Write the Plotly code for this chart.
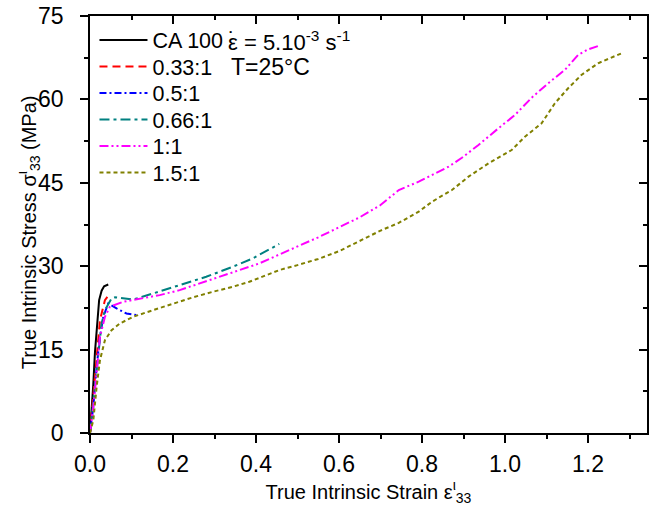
import plotly.graph_objects as go

# ---- data ----
ca100_x = [0.0, 0.004, 0.008, 0.012, 0.018, 0.022, 0.028, 0.034, 0.044]
ca100_y = [0.0, 4.0, 8.8, 14.6, 20.9, 23.9, 25.6, 26.4, 26.7]

r033_x = [0.0, 0.008, 0.016, 0.024, 0.028, 0.036, 0.042]
r033_y = [0.0, 7.2, 14.4, 20.3, 21.5, 23.9, 24.5]

r05_x = [0.0, 0.008, 0.016, 0.024, 0.032, 0.044, 0.064, 0.088, 0.112]
r05_y = [0.0, 4.7, 11.9, 17.3, 20.9, 23.3, 22.4, 21.5, 21.2]

r066_x = [0.0, 0.008, 0.020, 0.028, 0.036, 0.044, 0.052, 0.060, 0.104, 0.152, 0.216, 0.280, 0.344, 0.392, 0.456]
r066_y = [0.0, 5.9, 14.3, 19.7, 22.1, 23.3, 24.2, 24.4, 24.0, 25.1, 26.6, 28.1, 29.9, 31.4, 34.0]

r1_x = [0.0, 0.008, 0.016, 0.024, 0.036, 0.048, 0.080, 0.120, 0.168, 0.216, 0.264, 0.312, 0.360, 0.408, 0.456,
        0.50, 0.55, 0.60, 0.65, 0.70, 0.744, 0.792, 0.816, 0.864, 0.896, 0.936, 0.984, 1.024, 1.064, 1.104,
        1.144, 1.176, 1.200, 1.224]
r1_y = [0.0, 4.7, 10.8, 17.3, 20.9, 22.7, 23.6, 24.2, 24.8, 25.7, 26.9, 28.1, 29.3, 30.5, 32.1,
        33.5, 35.2, 37.0, 38.8, 41.0, 43.7, 45.2, 46.1, 47.9, 49.5, 51.8, 54.8, 57.2, 60.3, 62.9,
        65.3, 68.0, 69.0, 69.6]

r15_x = [0.0, 0.008, 0.016, 0.024, 0.036, 0.052, 0.072, 0.104, 0.152, 0.200, 0.248, 0.296, 0.344, 0.384, 0.424,
         0.456, 0.50, 0.55, 0.60, 0.65, 0.70, 0.744, 0.792, 0.824, 0.872, 0.912, 0.960, 1.016, 1.048, 1.088,
         1.120, 1.152, 1.184, 1.224, 1.284]
r15_y = [0.0, 2.3, 8.3, 13.1, 16.7, 18.5, 19.7, 20.9, 22.1, 23.3, 24.4, 25.4, 26.3, 27.2, 28.4,
         29.3, 30.2, 31.3, 32.7, 34.6, 36.4, 37.8, 39.8, 41.6, 43.7, 46.1, 48.5, 50.9, 53.3, 55.7,
         59.3, 62.0, 64.4, 66.5, 68.4]

names = ["CA 100", "0.33:1", "0.5:1", "0.66:1", "1:1", "1.5:1"]
xs = [ca100_x, r033_x, r05_x, r066_x, r1_x, r15_x]
ys = [ca100_y, r033_y, r05_y, r066_y, r1_y, r15_y]
colors = ["#000000", "#FF0000", "#0000FF", "#008080", "#FF00FF", "#808000"]
dashes = ["solid", "8px,5px", "7px,3px,2px,3px", "10px,4px,3px,4px", "9px,3px,2px,3px,2px,3px", "4px,3px"]

FONT = "Liberation Sans, Arial, sans-serif"
XR = [0, 1.342]
YR = [0, 75]
TICKF = 23

# plot area in pixels: left 90, right 649, top 16, bottom 433
def px_x(p):
    return (p - 90) / 559

def px_y(p):
    return (433 - p) / 417

legend_rows = [40, 66.5, 93, 119.5, 146, 172.5]

fig = go.Figure()
legend_layouts = {}
for i, (n, x, y, c, d) in enumerate(zip(names, xs, ys, colors, dashes)):
    lid = "legend" if i == 0 else f"legend{i + 1}"
    fig.add_trace(go.Scatter(x=x, y=y, mode="lines", name=n, legend=lid,
                             line=dict(color=c, width=2, dash=d)))
    legend_layouts[lid] = dict(x=px_x(94.5), y=px_y(legend_rows[i]), xanchor="left", yanchor="middle",
                               bgcolor="rgba(0,0,0,0)", font=dict(size=21.5, family=FONT),
                               itemwidth=48, borderwidth=0)

# transparent copy of one series on a coincident subplot that carries the inside ticks (top and right)
fig.add_trace(go.Scatter(x=r15_x, y=r15_y, xaxis="x2", yaxis="y2", mode="lines", opacity=0,
                         line=dict(color="#808000", width=1), showlegend=False, hoverinfo="skip"))

common = dict(showgrid=False, zeroline=False, linecolor="black", linewidth=1.5,
              tickwidth=1.5, tickcolor="black")

fig.update_layout(
    width=651, height=508,
    margin=dict(l=90, r=2, t=16, b=75),
    plot_bgcolor="rgba(0,0,0,0)", paper_bgcolor="white",
    font=dict(family=FONT, size=20, color="black"),
    showlegend=True,
    xaxis=dict(range=XR, domain=[0, 1], dtick=0.2, tick0=0, tickformat=".1f", showline=True, mirror=True,
               ticks="outside", ticklen=8, ticklabelstandoff=2,
               minor=dict(dtick=0.1, tick0=0, ticks="outside", ticklen=4, tickwidth=1.5, tickcolor="black"),
               tickfont=dict(size=TICKF),
               title=dict(text="True Intrinsic Strain ε<sup>ι</sup><sub>33</sub>", font=dict(size=20), standoff=0),
               **common),
    yaxis=dict(range=YR, domain=[0, 1], dtick=15, tick0=0, showline=True, mirror=True,
               ticks="outside", ticklen=8, ticklabelstandoff=12,
               minor=dict(dtick=7.5, tick0=0, ticks="outside", ticklen=4, tickwidth=1.5, tickcolor="black"),
               tickfont=dict(size=TICKF),
               **common),
    xaxis2=dict(visible=True, range=XR, domain=[0, 1], anchor="y2", side="top", overlaying="x",
                tickmode="linear", dtick=0.2, tick0=0, layer="above traces",
                showline=True, ticks="inside", ticklen=8, showticklabels=False,
                minor=dict(dtick=0.1, tick0=0, ticks="inside", ticklen=4, tickwidth=1.5, tickcolor="black"),
                **common),
    yaxis2=dict(visible=True, range=YR, domain=[0, 1], anchor="x2", side="right", overlaying="y",
                tickmode="linear", dtick=15, tick0=0, layer="above traces",
                showline=True, ticks="inside", ticklen=8, showticklabels=False,
                minor=dict(dtick=7.5, tick0=0, ticks="inside", ticklen=4, tickwidth=1.5, tickcolor="black"),
                **common),
    **legend_layouts,
)

# y axis title placed as a rotated annotation (slightly below the plot centre, as in the reference)
fig.add_annotation(text="True Intrinsic Stress σ<sup>ι</sup><sub>33</sub> (MPa)", xref="paper", yref="paper",
                   x=px_x(28), y=px_y(232), xanchor="center", yanchor="middle", textangle=-90,
                   showarrow=False, font=dict(size=20, family=FONT))

fig.add_annotation(text="ε = 5.10<sup>-3</sup> s<sup>-1</sup>", xref="paper", yref="paper",
                   x=px_x(226), y=px_y(41), xanchor="left", yanchor="middle",
                   showarrow=False, font=dict(size=22, family=FONT))
fig.add_annotation(text="˙", xref="paper", yref="paper",
                   x=px_x(232.5), y=px_y(39.5), xanchor="center", yanchor="middle",
                   showarrow=False, font=dict(size=22, family=FONT))
fig.add_annotation(text="T=25°C", xref="paper", yref="paper",
                   x=px_x(230), y=px_y(67), xanchor="left", yanchor="middle",
                   showarrow=False, font=dict(size=23, family=FONT))

fig.write_html("out.html", config={"displayModeBar": False},
               post_script="document.body.style.margin='0px';")
